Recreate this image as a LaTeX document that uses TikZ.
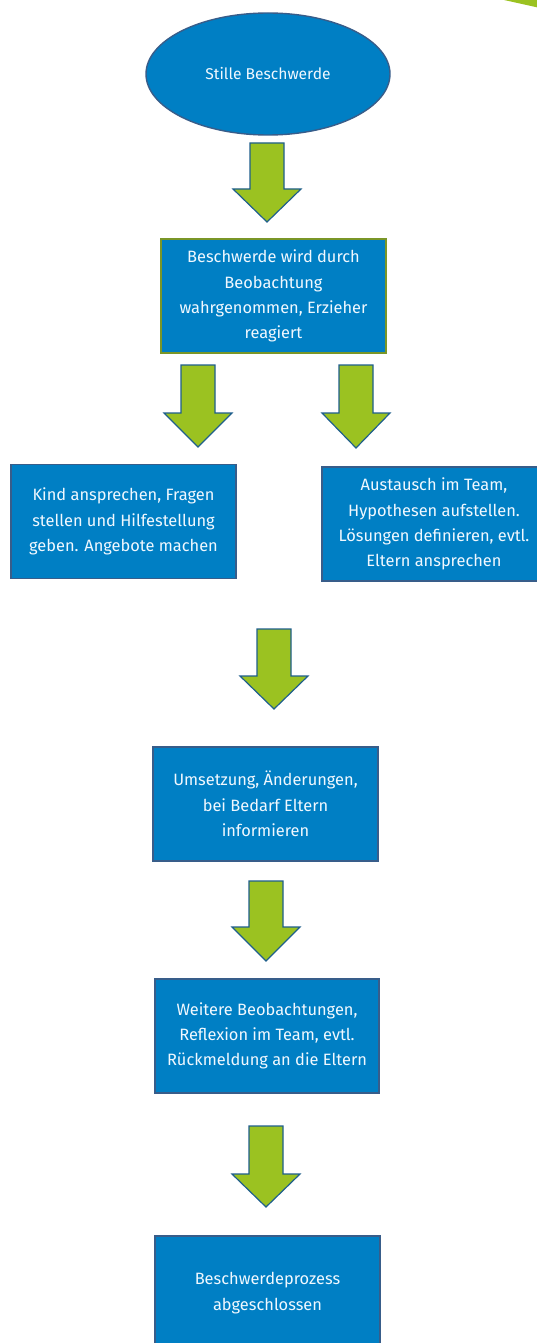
\documentclass[tikz,border=0pt]{standalone}
\usepackage{fontspec}
\setmainfont{Fira Sans}
\usetikzlibrary{shapes.geometric}
\definecolor{boxblue}{RGB}{0,127,196}
\definecolor{edgeblue}{RGB}{56,93,138}
\definecolor{boxolive}{RGB}{122,150,40}
\definecolor{arrgreen}{RGB}{155,194,33}
\definecolor{arredge}{RGB}{31,95,140}
\definecolor{txtwhite}{RGB}{240,248,255}
\tikzset{
  flowbox/.style={draw=edgeblue, fill=boxblue, line width=1.4pt, text=txtwhite,
    align=center, inner sep=0pt, minimum width=225pt, minimum height=114pt,
    font=\fontsize{16.4}{25.3}\selectfont},
  flowellipse/.style={ellipse, draw=edgeblue, fill=boxblue, line width=1.4pt, text=txtwhite,
    inner sep=0pt, minimum width=244pt, minimum height=122pt,
    font=\fontsize{15.6}{25}\selectfont},
  flowarrow/.style={draw=arredge, fill=arrgreen, line width=1.2pt, line join=miter},
}
\newcommand\greenarrow[4]{%
  \draw[flowarrow] ({#1-17},#2) -- ({#1+17},#2) -- ({#1+17},#3) -- ({#1+34},#3)
    -- (#1,#4) -- ({#1-34},#3) -- ({#1-17},#3) -- cycle;}
\begin{document}
\begin{tikzpicture}[x=1pt,y=-1pt]
\useasboundingbox (0,0) rectangle (537,1343);
\clip (0,0) rectangle (537,1343);
\fill[white] (0,0) rectangle (537,1343);
% decorative corner
\fill[arrgreen] (504,0) -- (540,0) -- (540,8) -- cycle;

\node[flowellipse] (start) at (268,74) {Stille Beschwerde};
\greenarrow{267}{143}{189}{222}
\node[flowbox, draw=boxolive] (obs) at (273.5,296) {Beschwerde wird durch\\Beobachtung\\wahrgenommen, Erzieher\\reagiert};
\greenarrow{198}{365}{413}{447}
\greenarrow{356}{365}{413}{448}
\node[flowbox] (kind) at (123.5,521.5) {Kind ansprechen, Fragen\\stellen und Hilfestellung\\geben. Angebote machen};
\node[flowbox, minimum width=224pt] (team) at (434,524) {Austausch im Team,\\Hypothesen aufstellen.\\Lösungen definieren, evtl.\\Eltern ansprechen};
\greenarrow{274}{629}{676}{709}
\node[flowbox] (umsetz) at (265.5,804) {Umsetzung, Änderungen,\\bei Bedarf Eltern\\informieren};
\greenarrow{266}{881}{927}{961}
\node[flowbox, minimum width=224pt] (weiter) at (267,1036) {Weitere Beobachtungen,\\Reflexion im Team, evtl.\\Rückmeldung an die Eltern};
\greenarrow{266}{1126}{1174}{1207}
\node[flowbox] (ende) at (267.5,1293) {Beschwerdeprozess\\abgeschlossen};
\end{tikzpicture}
\end{document}
